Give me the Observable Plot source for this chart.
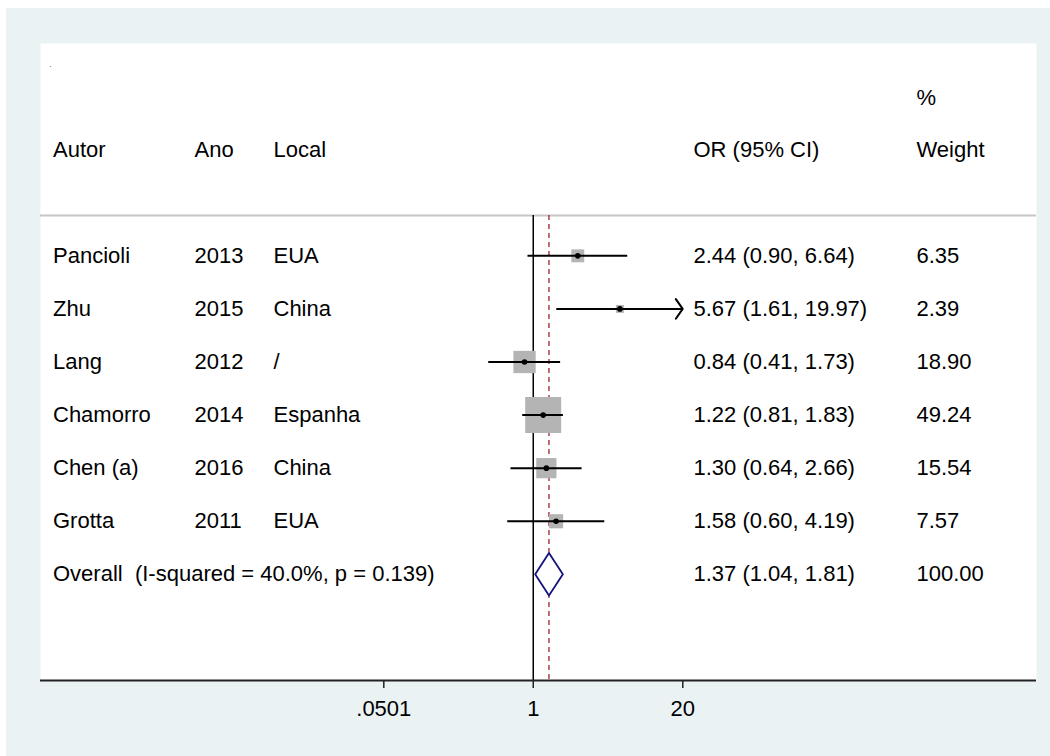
<!DOCTYPE html>
<html>
<head>
<meta charset="utf-8">
<script src="https://cdn.jsdelivr.net/npm/d3@7"></script>
<script src="https://cdn.jsdelivr.net/npm/@observablehq/plot@0.6"></script>
<style>
  html, body { margin: 0; padding: 0; background: #ffffff; }
  #wrap { position: relative; width: 1050px; height: 756px; overflow: hidden; }
  #bg { position: absolute; left: 6px; top: 8px; right: 0; bottom: 0; background: #eaf2f3; }
  #chart { position: absolute; left: 0; top: 0; }
</style>
</head>
<body>
<div id="wrap"><div id="bg"></div><div id="chart"></div></div>
<script>
// ---- data ----
const authors = ["Pancioli", "Zhu", "Lang", "Chamorro", "Chen (a)", "Grotta"];
const years   = ["2013", "2015", "2012", "2014", "2016", "2011"];
const places  = ["EUA", "China", "/", "Espanha", "China", "EUA"];
const orEst   = [2.44, 5.67, 0.84, 1.22, 1.30, 1.58];
const ciLow   = [0.90, 1.61, 0.41, 0.81, 0.64, 0.60];
const ciHigh  = [6.64, 19.97, 1.73, 1.83, 2.66, 4.19];
const weights = [6.35, 2.39, 18.90, 49.24, 15.54, 7.57];

const overallLabel = "Overall\u00a0 (I-squared = 40.0%, p = 0.139)";
const overallEst = 1.37, overallLow = 1.04, overallHigh = 1.81;
const overallWeight = "100.00";

const headerCols = ["Autor", "Ano", "Local", "OR (95% CI)", "Weight"];
const headerTop = ["%"];

const xTickValues = [0.0501, 1, 20];
const xTickLabels = [".0501", "1", "20"];

// ---- derived tables ----
const fmt = v => v.toFixed(2);
const rows = authors.map((a, i) => ({
  row: i + 1,
  author: a, year: years[i], place: places[i],
  est: orEst[i], lo: ciLow[i], hi: ciHigh[i], w: weights[i],
  orText: `${fmt(orEst[i])} (${fmt(ciLow[i])}, ${fmt(ciHigh[i])})`,
  wText: fmt(weights[i])
}));
const overallRow = rows.length + 1;
const xMax = xTickValues[xTickValues.length - 1];
const clipped = rows.filter(d => d.hi >= xMax * 0.99);
const unclipped = rows.filter(d => d.hi < xMax * 0.99);
const diamond = [
  {x: overallLow, y: overallRow},
  {x: overallEst, y: overallRow - 0.4},
  {x: overallHigh, y: overallRow},
  {x: overallEst, y: overallRow + 0.4},
  {x: overallLow, y: overallRow}
];
const ticks = xTickValues.map((v, i) => ({v, label: xTickLabels[i]}));

const FS = 22;
const font = "'Liberation Sans', Arial, Helvetica, sans-serif";
const colDx = [12.5, 154, 233, 653, 876];
const headerY = -1, topY = -1.97, sepY = 0.24, axisY = 9;

const txt = (data, opts) => Plot.text(data, {frameAnchor: "left", textAnchor: "start", fontSize: FS, fill: "#000", ...opts});

const chart = Plot.plot({
  width: 1050,
  height: 756,
  marginLeft: 40,
  marginRight: 14,
  marginTop: 43,
  marginBottom: 76,
  style: {background: "transparent", fontFamily: font},
  x: {type: "log", domain: [xTickValues[0], xMax], range: [383.3, 682.3], axis: null},
  y: {domain: [-3, axisY], reverse: true, axis: null},
  r: {type: "sqrt", domain: [0, d3.max(weights)], range: [0, 20.3]},
  marks: [
    Plot.frame({fill: "white", stroke: "none"}),
    Plot.ruleY([sepY], {stroke: "#c6c6c6", strokeWidth: 2}),
    // headers
    txt(["."], {y: -2.6, dx: 9, fontSize: 7, text: d => d}),
    txt(headerTop, {y: topY, dx: colDx[4], text: d => d}),
    ...headerCols.map((h, j) => txt([h], {y: headerY, dx: colDx[j], text: d => d})),
    // reference lines
    Plot.ruleX([1], {y1: sepY, y2: axisY, stroke: "#000", strokeWidth: 1.5}),
    Plot.ruleX([overallEst], {y1: sepY, y2: axisY, stroke: "#a8323e", strokeWidth: 1.4, strokeDasharray: "5,4"}),
    // boxes
    Plot.dot(rows, {x: "est", y: "row", r: "w", symbol: "square", fill: "#b4b4b4", stroke: "none"}),
    // CIs
    Plot.ruleY(unclipped, {x1: "lo", x2: "hi", y: "row", stroke: "#000", strokeWidth: 2}),
    Plot.arrow(clipped, {x1: "lo", x2: "hi", y1: "row", y2: "row", stroke: "#000", strokeWidth: 2, headAngle: 110, headLength: 9}),
    Plot.dot(rows, {x: "est", y: "row", r: 2.8, fill: "#000", stroke: "none"}),
    // overall diamond
    Plot.line(diamond, {x: "x", y: "y", stroke: "#14147d", strokeWidth: 1.8, fill: "white"}),
    // table text
    txt(rows, {y: "row", dx: colDx[0], text: "author"}),
    txt(rows, {y: "row", dx: colDx[1], text: "year"}),
    txt(rows, {y: "row", dx: colDx[2], text: "place"}),
    txt(rows, {y: "row", dx: colDx[3], text: "orText"}),
    txt(rows, {y: "row", dx: colDx[4], text: "wText"}),
    txt([overallLabel], {y: overallRow, dx: colDx[0], text: d => d}),
    txt([`${fmt(overallEst)} (${fmt(overallLow)}, ${fmt(overallHigh)})`], {y: overallRow, dx: colDx[3], text: d => d}),
    txt([overallWeight], {y: overallRow, dx: colDx[4], text: d => d}),
    // axis
    Plot.ruleY([axisY], {stroke: "#222", strokeWidth: 2}),
    Plot.ruleX(ticks, {x: "v", y1: axisY, y2: axisY + 8 / 53.08, stroke: "#222", strokeWidth: 1.5}),
    Plot.text(ticks, {x: "v", y: axisY, dy: 28, text: "label", fontSize: FS, fill: "#000"})
  ]
});
document.getElementById("chart").appendChild(chart);
</script>
</body>
</html>
